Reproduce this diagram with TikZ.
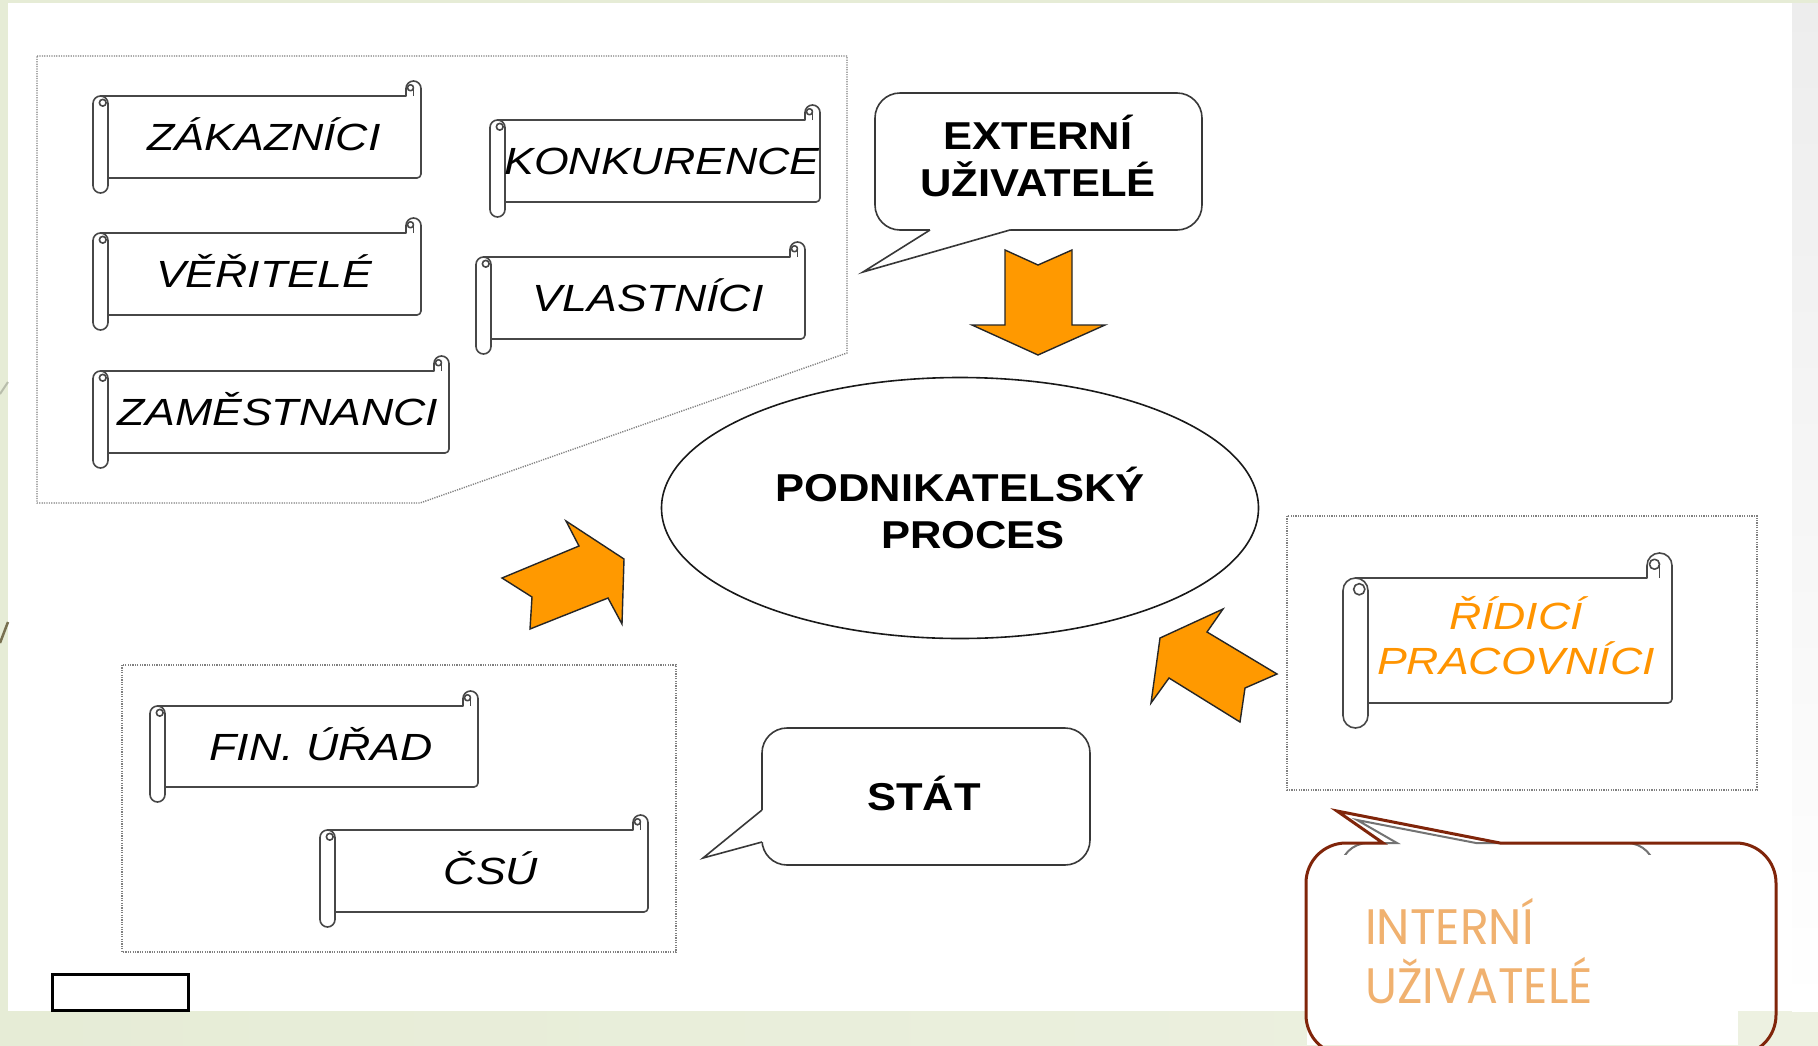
\documentclass[tikz,border=0pt]{standalone}
\usepackage{fontspec}
\setmainfont{Liberation Sans}
\newfontfamily\scrollfont[FakeStretch=1.18]{Liberation Sans}
\newfontfamily\titlefont[FakeStretch=1.12]{Liberation Sans}
\newfontfamily\gothicfont[FakeStretch=0.95]{Poppins}
\usetikzlibrary{shapes.geometric}

\definecolor{slidegreen}{HTML}{E6ECD6}
\definecolor{slidegreenB}{HTML}{EDF1E1}
\definecolor{slidegrey}{HTML}{EDEDED}
\definecolor{arrowfill}{HTML}{FF9900}
\definecolor{accent}{HTML}{FF9400}
\definecolor{softorange}{HTML}{F0B16F}
\definecolor{maroon}{HTML}{80250A}

\tikzset{
  scrollline/.style={draw=black!72, line width=1.6bp, line join=round},
  scrolltext/.style={font=\scrollfont\itshape\fontsize{38}{45}\selectfont, inner sep=0pt, anchor=base},
  bigtext/.style={font=\titlefont\bfseries\fontsize{39}{47}\selectfont, align=center, inner sep=0pt},
  zone/.style={draw=black!50, line width=1.4bp, dash pattern=on 1.2bp off 1.2bp},
  flowarrow/.style={fill=arrowfill, draw=black!85, line width=1.4bp, line join=miter},
  bubble/.style={draw=black!78, line width=1.6bp, fill=white},
  inttext/.style={font=\gothicfont\fontsize{50}{59}\selectfont, text=softorange, inner sep=0pt, anchor=base west},
}

% horizontal scroll: left, top, right, bottom, roll diameter
\newcommand{\scrollshape}[5]{%
  \pgfmathsetmacro\sL{#1}\pgfmathsetmacro\sT{#2}%
  \pgfmathsetmacro\sR{#3}\pgfmathsetmacro\sB{#4}%
  \pgfmathsetmacro\sd{#5}\pgfmathsetmacro\sr{#5/2}%
  \draw[scrollline, fill=white]
    (\sL+\sr, \sT+\sd) -- (\sR-\sd, \sT+\sd) -- (\sR-\sd, \sT+\sr)
    arc[start angle=180, end angle=360, radius=\sr]
    -- (\sR, \sB-\sd-4) arc[start angle=0, end angle=90, radius=4]
    -- (\sL+\sr, \sB-\sd) -- cycle;
  \draw[scrollline] (\sR-\sr, \sT+\sd) -- (\sR-\sr, \sT+\sr*0.9);
  \draw[scrollline] (\sR-\sr*1.4, \sT+\sr*0.9) circle[radius=\sr*0.4];
  \draw[scrollline, fill=white]
    (\sL, \sT+\sd+\sr) arc[start angle=180, end angle=360, radius=\sr]
    -- (\sL+\sd, \sB-\sr) arc[start angle=0, end angle=180, radius=\sr] -- cycle;
  \draw[scrollline] (\sL+\sr*1.3, \sT+\sd+\sr*0.9) circle[radius=\sr*0.45];
}

\begin{document}
\begin{tikzpicture}[x=1bp, y=-1bp]
\useasboundingbox (0,0) rectangle (1818,1045);
\clip (0,0) rectangle (1818,1045);

% slide background
\fill[slidegreen] (0,0) rectangle (1818,1045);
\shade[left color=slidegreen, right color=slidegreenB] (0,1011) rectangle (1818,1045);
\shade[top color=slidegrey, bottom color=white] (1792,3) rectangle (1818,1011);
\fill[white] (8,3) rectangle (1792,1011);
\draw[line width=2bp, black!20!slidegreen] (0,394) -- (8,382);
\draw[line width=2.5bp, color={rgb,255:red,120;green,112;blue,80}] (0,643) -- (8,622);

% groups of users
\draw[zone] (37,56) -- (847,56) -- (847,353) -- (420,503) -- (37,503) -- cycle;
\draw[zone] (122,665) rectangle (676,952);
\draw[zone] (1287,516) rectangle (1757,790);

% external users
\scrollshape{93}{81}{421}{193}{15}
\node[scrolltext] (zak) at (264,150) {ZÁKAZNÍCI};
\scrollshape{93}{218}{421}{330}{15}
\node[scrolltext] (ver) at (264,287) {VĚŘITELÉ};
\scrollshape{93}{356}{449}{468}{15}
\node[scrolltext] (zam) at (278,425) {ZAMĚSTNANCI};
\scrollshape{490}{105}{820}{217}{15}
\node[scrolltext] (kon) at (662,174) {KONKURENCE};
\scrollshape{476}{242}{805}{354}{15}
\node[scrolltext] (vla) at (648,311) {VLASTNÍCI};
\scrollshape{150}{691}{478}{802}{15}
\node[scrolltext] (fin) at (321,760) {FIN. ÚŘAD};
\scrollshape{320}{815}{648}{927}{15}
\node[scrolltext] (csu) at (491,884) {ČSÚ};

% internal users
\scrollshape{1343}{553}{1672}{728}{25}
\node[scrolltext, anchor=center, align=center, text=accent] (rid) at (1516,636) {ŘÍDICÍ\\PRACOVNÍCI};

% central process
\node[ellipse, draw=black!90, line width=1.6bp, minimum width=597bp, minimum height=261bp,
      bigtext] (proc) at (960,508) {PODNIKATELSKÝ\\\hspace*{26bp}PROCES};

% callout for external users
\draw[bubble, rounded corners=25bp] (875,93) rectangle (1202,230);
\fill[white] (930,230) -- (863,272) -- (1010,230) -- (1010,227) -- (930,227) -- cycle;
\draw[bubble, fill=none] (930,230) -- (863,272) -- (1010,230);
\node[bigtext] (ext) at (1038,156) {EXTERNÍ\\UŽIVATELÉ};

% callout for the state
\draw[bubble, rounded corners=25bp] (762,728) rectangle (1090,865);
\fill[white] (762,810) -- (703,858) -- (762,842) -- (765,842) -- (765,810) -- cycle;
\draw[bubble, fill=none] (762,810) -- (703,858) -- (762,842);
\node[bigtext, anchor=base] (stat) at (924,810) {STÁT};

% flow arrows
\draw[flowarrow] (1005,250) -- (1038,265) -- (1072,250) -- (1072,325) -- (1105,325)
  -- (1038,355) -- (972,325) -- (1005,325) -- cycle;
\draw[flowarrow] (624,559) -- (566,521) -- (579,546) -- (502,578) -- (532,597)
  -- (530,629) -- (608,598) -- (622,624) -- cycle;
\draw[flowarrow] (1160,638) -- (1223,609) -- (1207,632) -- (1277,674) -- (1245,688)
  -- (1240,722) -- (1169,678) -- (1151,703) -- cycle;

% callout for internal users (a grey one behind the red one)
\draw[draw=black!55, line width=2bp, fill=white]
  (1476,843) -- (1627,843) arc[start angle=270, end angle=360, radius=28]
  -- (1655,1000) -- (1340,1000) -- (1340,871) arc[start angle=180, end angle=270, radius=28]
  -- (1397,843) -- (1357,820) -- cycle;
\fill[white] (1307,855) rectangle (1738,1045);
\draw[draw=maroon, line width=3bp, line join=miter]
  (1500,843) -- (1736,843) arc[start angle=270, end angle=360, radius=40]
  -- (1776,1015) arc[start angle=0, end angle=90, radius=40]
  -- (1346,1055) arc[start angle=90, end angle=180, radius=40]
  -- (1306,883) arc[start angle=180, end angle=270, radius=40]
  -- (1383,843) -- (1337,811) -- cycle;
\node[inttext] (intA) at (1365,944) {INTERNÍ};
\node[inttext] (intB) at (1365,1003) {UŽIVATELÉ};

% small empty frame
\draw[line width=3bp, fill=white] (52,974) rectangle (188,1010);
\end{tikzpicture}
\end{document}
